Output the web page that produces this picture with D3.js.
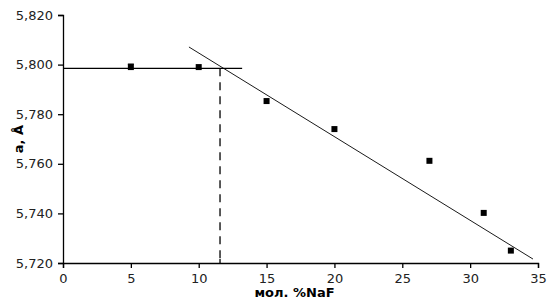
<!DOCTYPE html>
<html>
<head>
<meta charset="utf-8">
<script src="https://cdn.jsdelivr.net/npm/d3@7"></script>
<style>
  body { margin: 0; background: #fff; }
  svg { font-family: "DejaVu Sans", sans-serif; }
</style>
</head>
<body>
<div id="chart"></div>
<script>
// data
const naf = [5, 10, 15, 20, 27, 31, 33];
const latticeA = [5.7990, 5.7990, 5.7853, 5.7740, 5.7612, 5.7402, 5.7250];
const errTop = [5.8002, null, null, null, null, null, null];
const xTicks = [0, 5, 10, 15, 20, 25, 30, 35];
const yTicks = [5.72, 5.74, 5.76, 5.78, 5.80, 5.82];
// fitted lines
const flatLine = [[0, 5.7985], [13.2, 5.7985]];
const slopeLine = [[9.28, 5.8071], [34.63, 5.7216]];
const crossX = [11.57];

const margin = { left: 63, right: 12, top: 15, bottom: 43 };
const width = 550 - margin.left - margin.right;
const height = 306 - margin.top - margin.bottom;

const svg = d3.select('#chart').append('svg')
  .attr('width', 550)
  .attr('height', 306);

const g = svg.append('g')
  .attr('transform', 'translate(' + margin.left + ',' + margin.top + ')');

const x = d3.scaleLinear().domain([0, 35]).range([0, width]);
const y = d3.scaleLinear().domain([5.72, 5.82]).range([height, 0]);

const fmt = d => d3.format('.3f')(d).replace('.', ',');

// axes
const xAxis = g.append('g')
  .attr('transform', 'translate(0,' + height + ')')
  .call(d3.axisBottom(x).tickValues(xTicks).tickSize(5).tickPadding(6).tickFormat(d3.format('d')));
const yAxis = g.append('g')
  .call(d3.axisLeft(y).tickValues(yTicks).tickSize(5).tickPadding(5).tickFormat(fmt));

[xAxis, yAxis].forEach(a => {
  a.select('.domain').attr('stroke', '#000').attr('stroke-width', 1.3);
  a.selectAll('.tick line').attr('stroke', '#000').attr('stroke-width', 1.3);
  a.selectAll('.tick text')
    .attr('fill', '#222')
    .attr('font-size', '13px')
    .attr('font-family', '"DejaVu Sans", sans-serif');
});

// extra tick at the crossing point
g.append('line')
  .attr('x1', x(crossX[0])).attr('x2', x(crossX[0]))
  .attr('y1', height).attr('y2', height - 4)
  .attr('stroke', '#000').attr('stroke-width', 1.3);

// lines
const line = d3.line().x(d => x(d[0])).y(d => y(d[1]));
g.append('path').attr('d', line(flatLine))
  .attr('fill', 'none').attr('stroke', '#000').attr('stroke-width', 1.3);
g.append('path').attr('d', line(slopeLine))
  .attr('fill', 'none').attr('stroke', '#000').attr('stroke-width', 0.9);

// dashed drop line
g.append('line')
  .attr('x1', x(crossX[0])).attr('x2', x(crossX[0]))
  .attr('y1', y(flatLine[0][1])).attr('y2', height)
  .attr('stroke', '#000').attr('stroke-width', 1.3)
  .attr('stroke-dasharray', '8,6');

// error caps
naf.forEach((v, i) => {
  if (errTop[i] === null) return;
  g.append('line')
    .attr('x1', x(v)).attr('x2', x(v))
    .attr('y1', y(latticeA[i])).attr('y2', y(errTop[i]))
    .attr('stroke', '#000').attr('stroke-width', 1.2);
  g.append('line')
    .attr('x1', x(v) - 3).attr('x2', x(v) + 3)
    .attr('y1', y(errTop[i])).attr('y2', y(errTop[i]))
    .attr('stroke', '#000').attr('stroke-width', 1.2);
});

// points
g.selectAll('rect.pt')
  .data(naf.map((v, i) => [v, latticeA[i]]))
  .enter()
  .append('rect')
  .attr('class', 'pt')
  .attr('x', d => x(d[0]) - 3)
  .attr('y', d => y(d[1]) - 3)
  .attr('width', 6)
  .attr('height', 6)
  .attr('fill', '#000');

// labels
svg.append('text')
  .attr('x', margin.left + width * 0.5 - 6)
  .attr('y', 297)
  .attr('text-anchor', 'middle')
  .attr('font-size', '13px')
  .attr('font-weight', 'bold')
  .text('мол. %NaF');

svg.append('text')
  .attr('transform', 'translate(23,139) rotate(-90)')
  .attr('text-anchor', 'middle')
  .attr('font-size', '13px')
  .attr('font-weight', 'bold')
  .text('a, Å');
</script>
</body>
</html>
